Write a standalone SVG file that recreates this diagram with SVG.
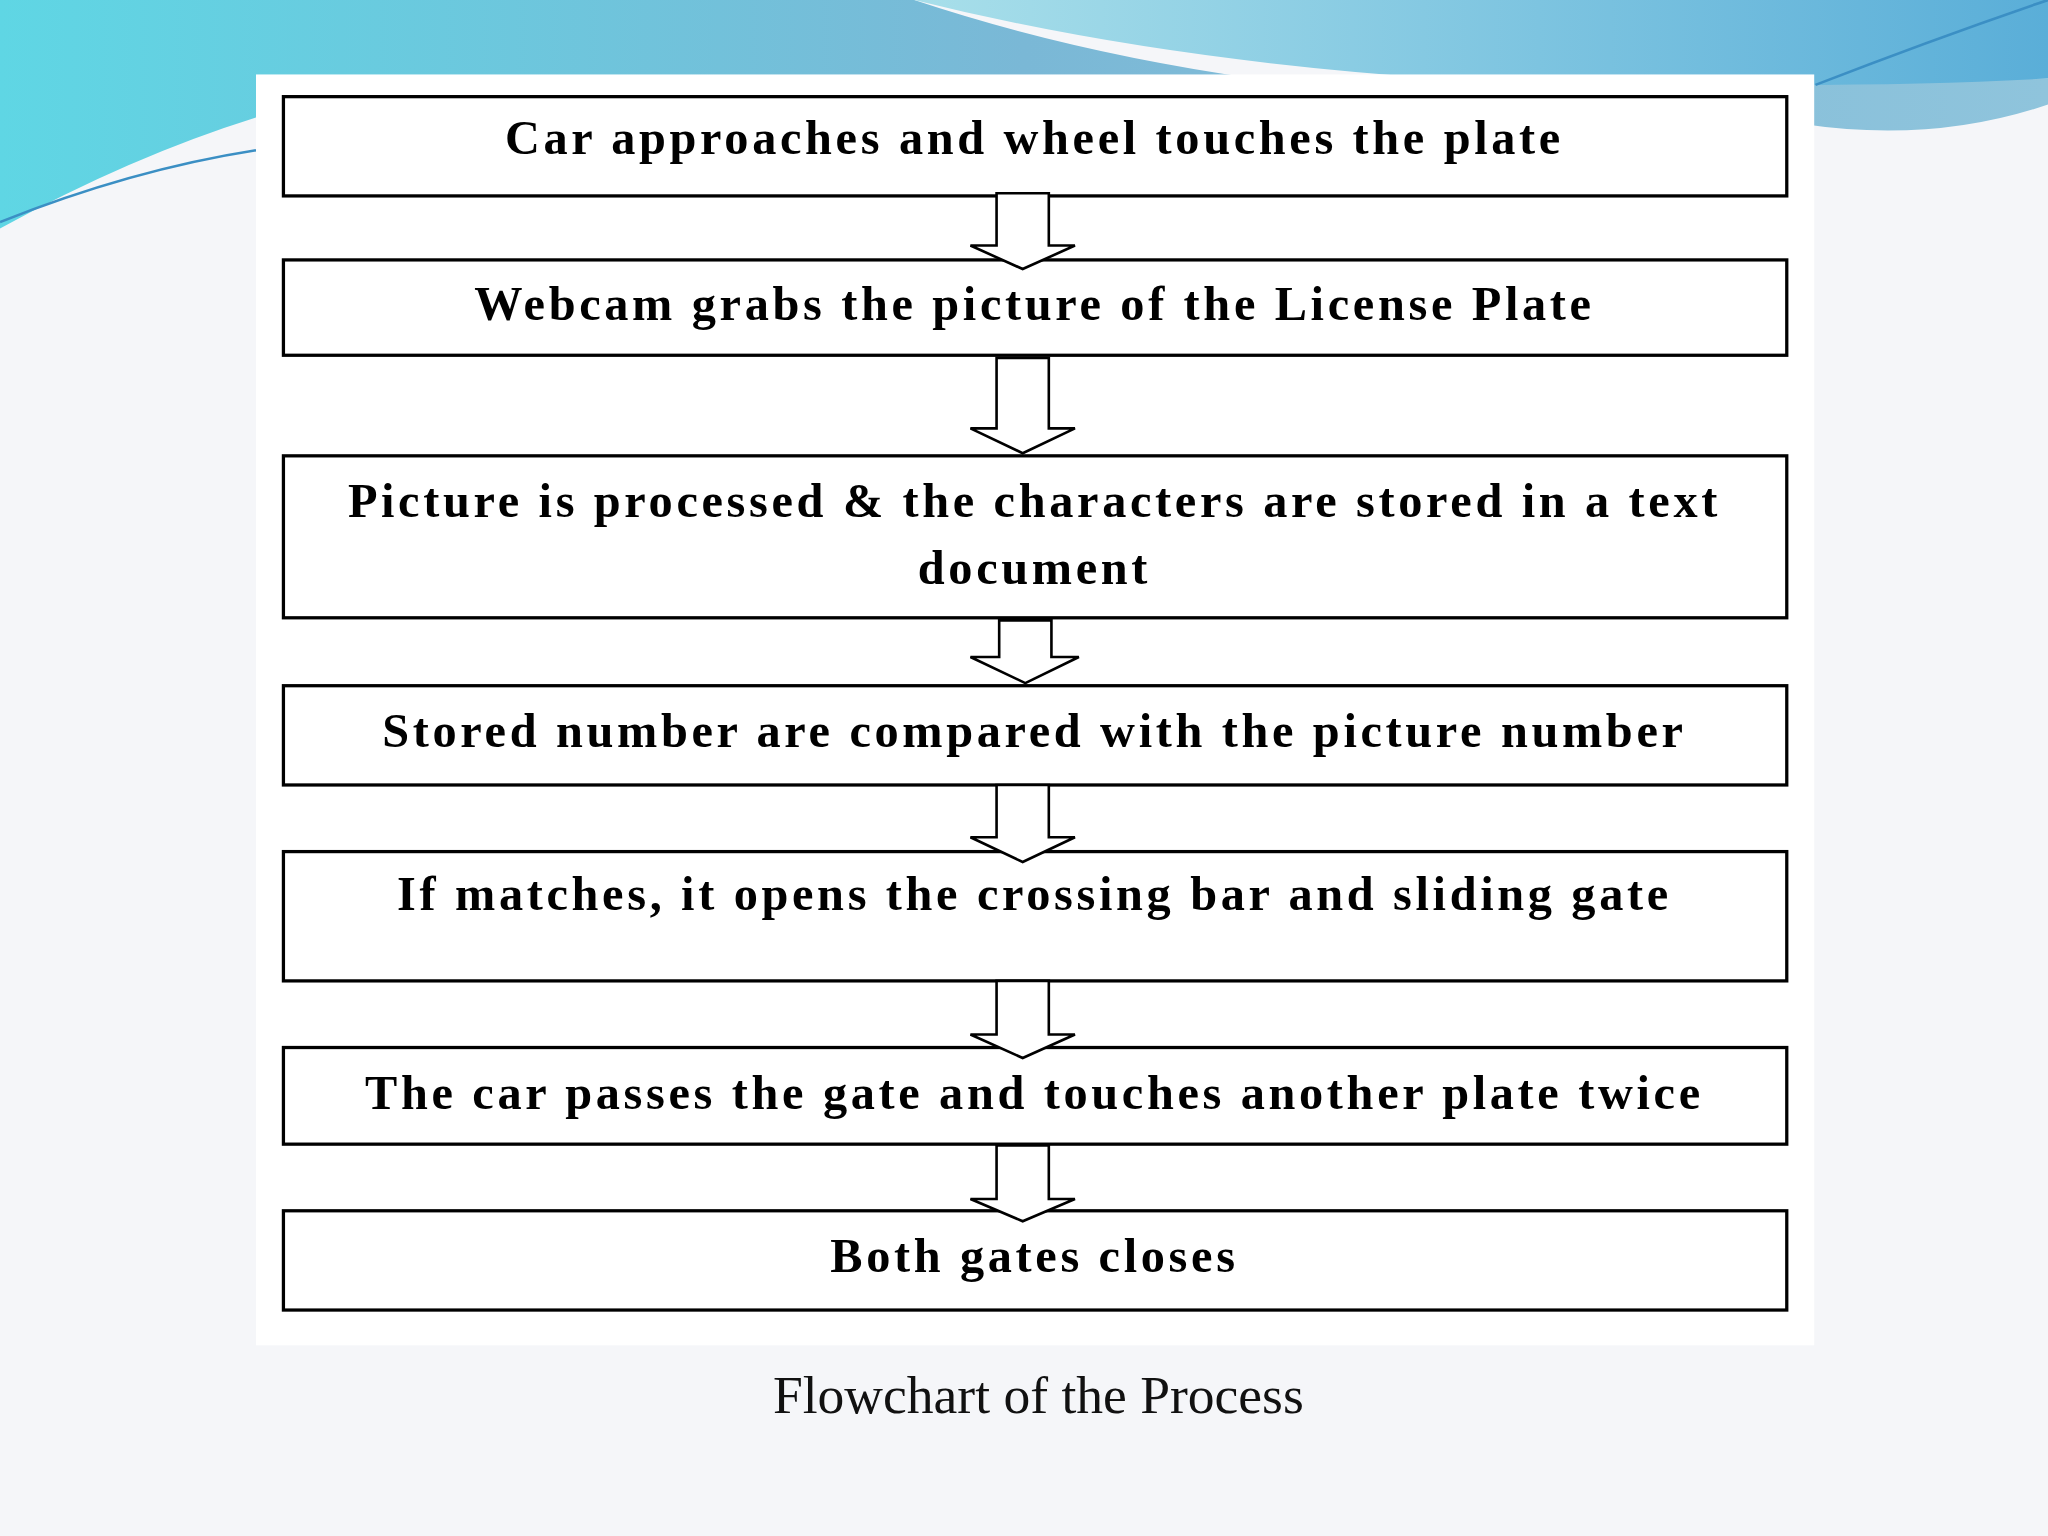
<svg xmlns="http://www.w3.org/2000/svg" width="2048" height="1536" viewBox="0 0 2048 1536">
<defs>
<linearGradient id="bg1" x1="0" y1="0" x2="1" y2="0"><stop offset="0" stop-color="#5fd6e4"/><stop offset="0.5" stop-color="#7ab8d6"/><stop offset="1" stop-color="#8fc4dc"/></linearGradient>
<linearGradient id="bg2" x1="0" y1="0" x2="1" y2="0"><stop offset="0" stop-color="#a8dfea"/><stop offset="1" stop-color="#5aaed8"/></linearGradient>
<style>
.box{fill:#fff;stroke:#000;stroke-width:2.5}
.arr{fill:#fff;stroke:#000;stroke-width:2}
.t{font-family:"Liberation Serif",serif;font-weight:bold;font-size:37px;letter-spacing:2.8px;text-anchor:middle;fill:#000}
</style>
</defs>
<g transform="scale(1.306122)">
<rect width="1568" height="1176" fill="#f5f6f9"/>
<path d="M0 0 H700 Q820 40 960 60 H1568 V80 Q1480 110 1380 95 L196 90 Q100 120 0 175 Z" fill="url(#bg1)"/>
<path d="M700 0 H1568 V60 Q1400 70 1100 60 Q880 45 700 0 Z" fill="url(#bg2)"/>
<path d="M0 170 Q100 130 196 115" fill="none" stroke="#3b8fc4" stroke-width="2"/>
<path d="M1390 65 Q1480 30 1568 0" fill="none" stroke="#3b8fc4" stroke-width="2"/>
<rect x="196" y="57" width="1193" height="973" fill="#fff"/>
<g id="n1"><rect class="box" x="217" y="74" width="1151" height="76"/><text class="t" x="792" y="118">Car approaches and wheel touches the plate</text></g>
<g id="n2"><rect class="box" x="217" y="199" width="1151" height="73"/><text class="t" x="792" y="245">Webcam grabs the picture of the License Plate</text></g>
<g id="n3"><rect class="box" x="217" y="349" width="1151" height="124"/><text class="t" x="792" y="396">Picture is processed &amp; the characters are stored in a text</text><text class="t" x="792" y="447">document</text></g>
<g id="n4"><rect class="box" x="217" y="525" width="1151" height="76"/><text class="t" x="792" y="572">Stored number are compared with the picture number</text></g>
<g id="n5"><rect class="box" x="217" y="652" width="1151" height="99"/><text class="t" x="792" y="697">If matches, it opens the crossing bar and sliding gate</text></g>
<g id="n6"><rect class="box" x="217" y="802" width="1151" height="74"/><text class="t" x="792" y="849">The car passes the gate and touches another plate twice</text></g>
<g id="n7"><rect class="box" x="217" y="927" width="1151" height="76"/><text class="t" x="792" y="974">Both gates closes</text></g>
<g id="connectors">
<path class="arr" d="M763 148 V188 H743 L783 206 L823 188 H803 V148 Z"/>
<path class="arr" d="M763 274 V328 H743 L783 347 L823 328 H803 V274 Z"/>
<path class="arr" d="M765 475 V503 H743 L785 523 L826 503 H805 V475 Z"/>
<path class="arr" d="M763 601 V641 H743 L783 660 L823 641 H803 V601 Z"/>
<path class="arr" d="M763 751 V792 H743 L783 810 L823 792 H803 V751 Z"/>
<path class="arr" d="M763 877 V918 H743 L783 935 L823 918 H803 V877 Z"/>
</g>
<text x="795" y="1082" font-family="Liberation Serif,serif" font-size="41" text-anchor="middle" fill="#111">Flowchart of the Process</text>
</g>
</svg>
